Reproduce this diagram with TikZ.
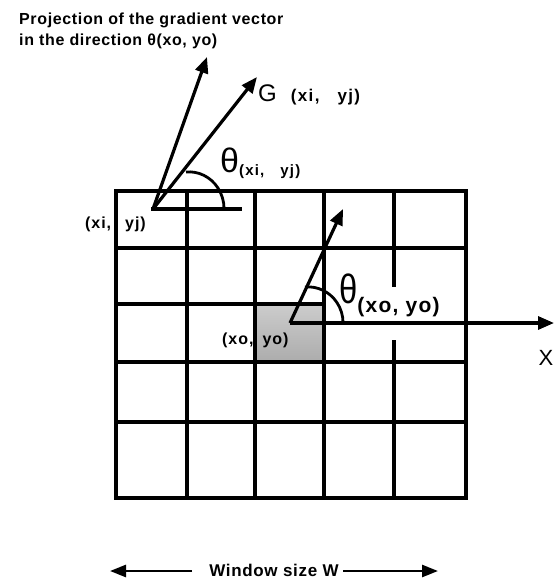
\documentclass[tikz,border=0pt]{standalone}
\usepackage{fontspec}
\setmainfont{Liberation Sans}
\usetikzlibrary{arrows.meta}

\tikzset{
  gridline/.style={line width=3.2pt, line cap=rect},
  vec/.style={line width=3.2pt, -{Triangle[length=16pt,width=13pt]}},
  arcmark/.style={line width=2.8pt},
  lbl/.style={inner sep=0pt, font=\bfseries\fontsize{16}{18}\selectfont\addfontfeature{LetterSpace=6}},
  dimarrow/.style={line width=2.6pt, -{Triangle[length=16pt,width=12pt]}}
}

\begin{document}
\begin{tikzpicture}[x=1pt,y=-1pt]
  \useasboundingbox (0,0) rectangle (555,580);

  % Shaded centre cell (xo, yo)
  \shade[top color=gray!40, bottom color=gray!65] (255,304) rectangle (324,362);

  % Window grid
  \foreach \x in {116,187,255,324,466}
    \draw[gridline] (\x,191) -- (\x,498);
  \draw[gridline] (394,191) -- (394,285);
  \draw[gridline] (394,342) -- (394,498);
  \foreach \y in {191,248,362,422,498}
    \draw[gridline] (116,\y) -- (466,\y);
  \draw[gridline] (116,304) -- (324,304);

  % Gradient at (xi, yj)
  \coordinate (oij) at (153,209);
  \coordinate (proj) at (207,57);
  \coordinate (gtip) at (257,77);
  \coordinate (href) at (240,209);
  \draw[vec] (oij) -- (proj);
  \draw[vec] (oij) -- (gtip);
  \draw[gridline] (oij) -- (href);
  \draw[arcmark] (186,172) arc[start angle=-95, end angle=0, x radius=35, y radius=37];

  % Direction at (xo, yo) and x axis
  \coordinate (oo) at (290,323);
  \coordinate (dtip) at (343,209);
  \coordinate (xtip) at (554,323);
  \draw[vec] (oo) -- (dtip);
  \draw[vec] (oo) -- (xtip);
  \draw[arcmark] (305,287) arc[start angle=-95, end angle=0, x radius=35, y radius=36];

  % Labels
  \node[lbl, anchor=north west, align=left, font=\bfseries\fontsize{16}{21}\selectfont\addfontfeature{LetterSpace=4}] (title) at (19,13)
    {Projection of the gradient vector\\in the direction θ(xo, yo)};
  \node[anchor=base west, inner sep=0pt] (glbl) at (258,102)
    {\fontsize{24}{24}\selectfont G\hspace{14pt}{\bfseries\fontsize{17}{17}\selectfont\addfontfeature{LetterSpace=8}(xi,\hspace{18pt}yj)}};
  \node[anchor=base west, inner sep=0pt] (thij) at (220,172)
    {\fontsize{34}{34}\selectfont θ\raisebox{-3pt}{\bfseries\fontsize{15}{15}\selectfont\addfontfeature{LetterSpace=8}(xi,\hspace{16pt}yj)}};
  \node[anchor=base west, inner sep=0pt] (thoo) at (339,303)
    {\fontsize{41}{41}\selectfont\scalebox{0.8}[1]{θ}\raisebox{-9pt}{\bfseries\fontsize{21}{21}\selectfont\addfontfeature{LetterSpace=6}(xo, yo)}};
  \node[lbl, anchor=base west] (pij) at (85,228) {(xi,\hspace{14pt}yj)};
  \node[lbl, anchor=base west] (poo) at (222,344) {(xo,\hspace{9pt}yo)};
  \node[inner sep=0pt, font=\fontsize{22}{22}\selectfont] (xlbl) at (546,358) {X};

  % Window size
  \node[inner sep=0pt, font=\bfseries\fontsize{17}{17}\selectfont\addfontfeature{LetterSpace=4}] (win) at (274,570) {Window size W};
  \coordinate (wla) at (192,571);
  \coordinate (wl) at (110,571);
  \coordinate (wra) at (343,571);
  \coordinate (wr) at (438,571);
  \draw[dimarrow] (wla) -- (wl);
  \draw[dimarrow] (wra) -- (wr);
\end{tikzpicture}
\end{document}
